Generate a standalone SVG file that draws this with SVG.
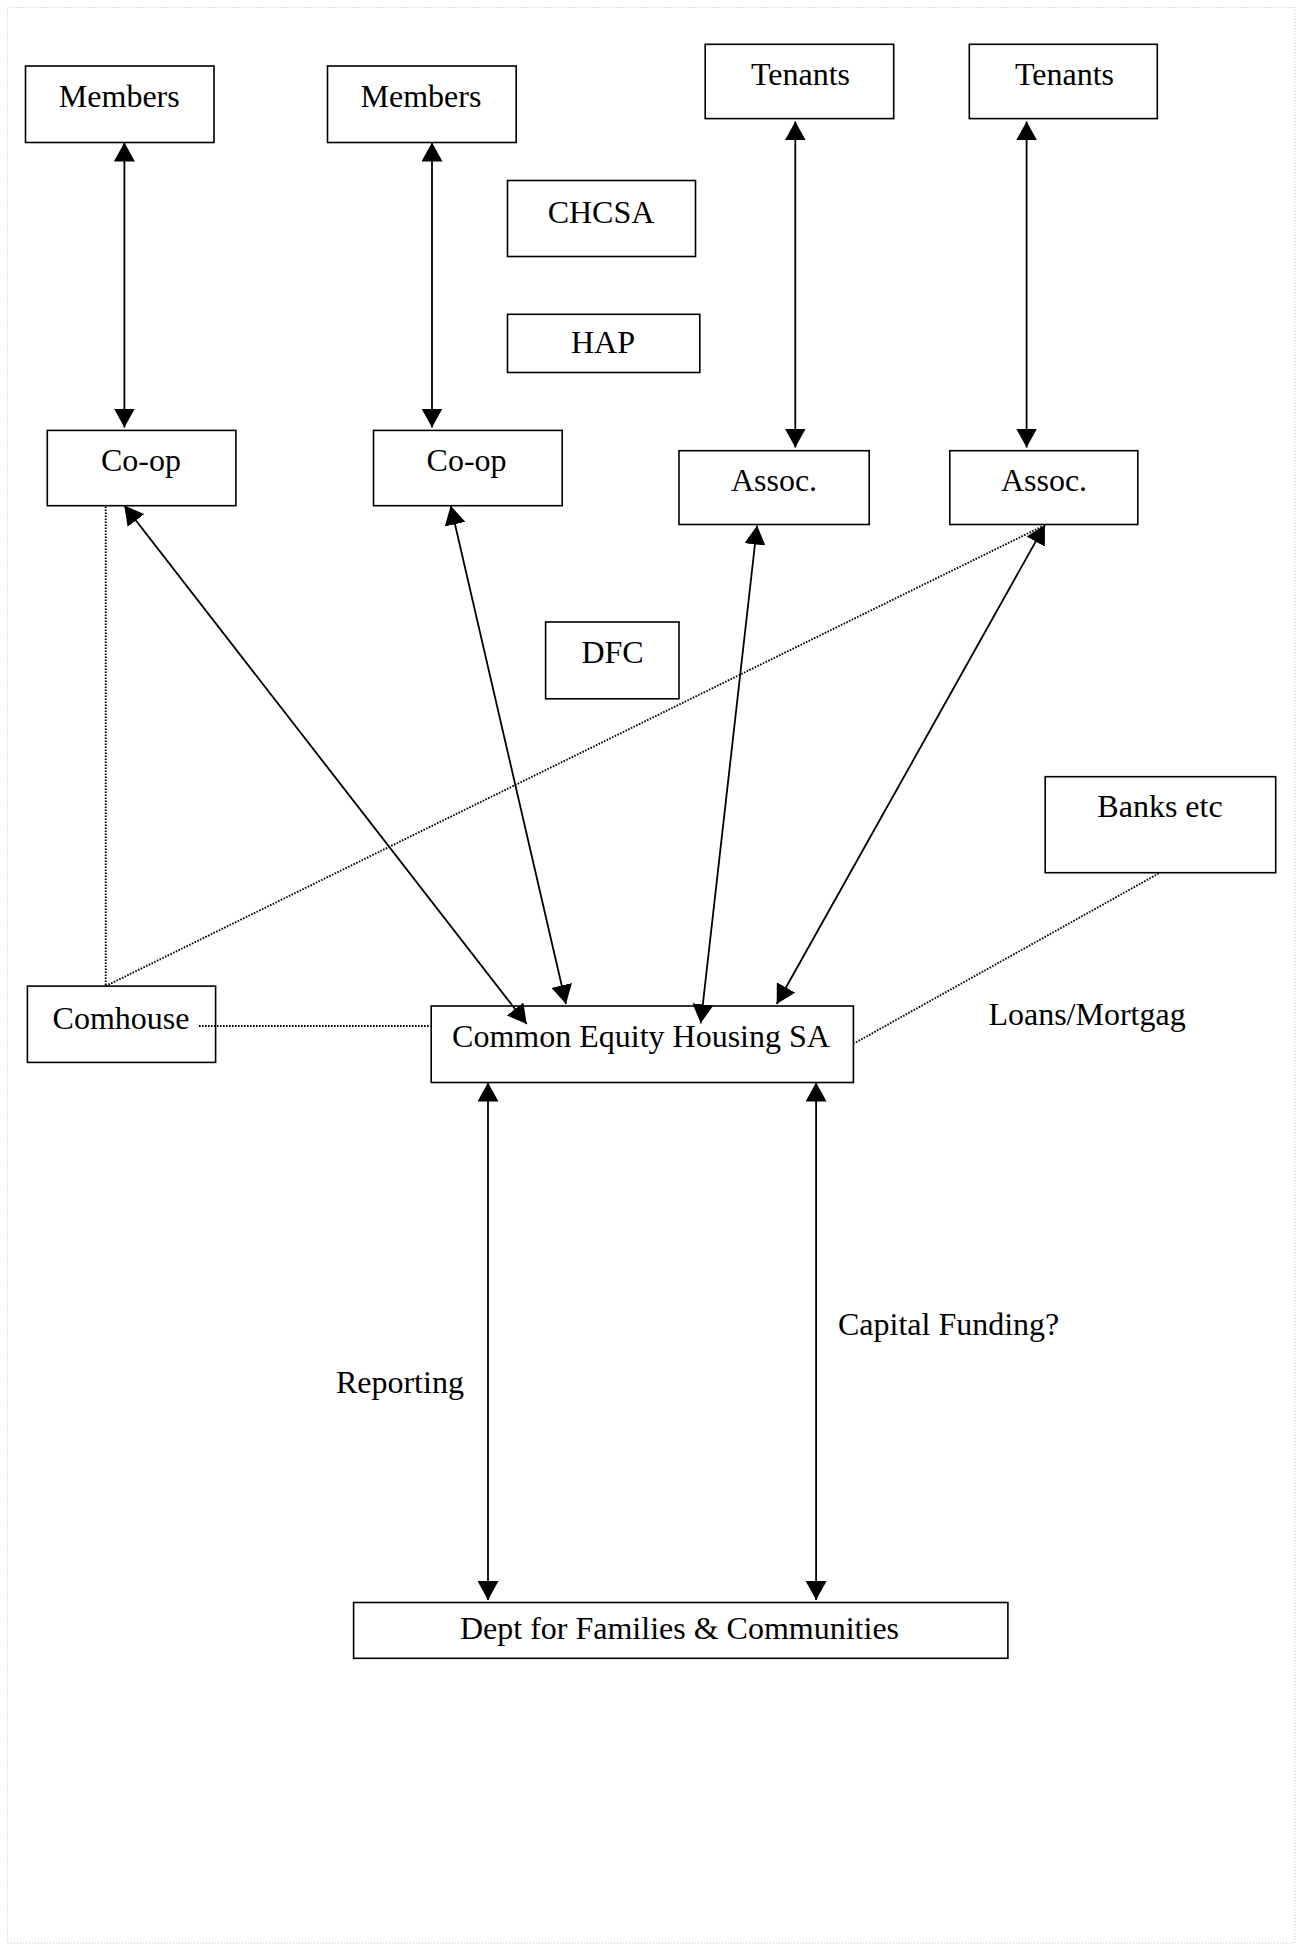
<svg xmlns="http://www.w3.org/2000/svg" width="1301" height="1947" viewBox="0 0 1301 1947">
  <style>
    .box { fill: #ffffff; stroke: #000000; stroke-width: 1.6; }
    .lbl { font-family: "Liberation Serif", "Times New Roman", serif; font-size: 32px; fill: #000000; text-anchor: middle; }
    .free { font-family: "Liberation Serif", "Times New Roman", serif; font-size: 32px; fill: #000000; }
    .arrow { stroke: #000000; stroke-width: 1.8; fill: none; marker-start: url(#ah); marker-end: url(#ah); }
    .dot { stroke: #000000; stroke-width: 1.9; fill: none; stroke-dasharray: 1.6 1.4; }
    .page { fill: none; stroke: #c4c4c4; stroke-width: 1; stroke-dasharray: 1 2; }
  </style>
  <defs>
    <marker id="ah" viewBox="0 0 19 21" refX="19" refY="10.5" markerWidth="19" markerHeight="21" markerUnits="userSpaceOnUse" orient="auto-start-reverse">
      <path d="M0,0 L19,10.5 L0,21 Z" fill="#000000"/>
    </marker>
  </defs>
  <rect x="0" y="0" width="1301" height="1947" fill="#ffffff"/>
  <rect class="page" x="7.5" y="7.5" width="1287.5" height="1935.5"/>

  <g id="members1"><rect class="box" x="25.5" y="66" width="188.5" height="76.5"/><text class="lbl" x="119.3" y="107">Members</text></g>
  <g id="members2"><rect class="box" x="327.5" y="66" width="188.7" height="76.5"/><text class="lbl" x="421" y="107">Members</text></g>
  <g id="chcsa"><rect class="box" x="507.5" y="180.5" width="188" height="76"/><text class="lbl" x="601" y="223">CHCSA</text></g>
  <g id="hap"><rect class="box" x="507.5" y="314.3" width="192.3" height="58.2"/><text class="lbl" x="603" y="352.9">HAP</text></g>
  <g id="tenants1"><rect class="box" x="705.2" y="44.3" width="188.5" height="74.3"/><text class="lbl" x="800.5" y="84.6">Tenants</text></g>
  <g id="tenants2"><rect class="box" x="969.3" y="44.3" width="188" height="74.3"/><text class="lbl" x="1064.5" y="84.6">Tenants</text></g>
  <g id="coop1"><rect class="box" x="47.3" y="430.4" width="188.6" height="75.3"/><text class="lbl" x="141" y="470.7">Co-op</text></g>
  <g id="coop2"><rect class="box" x="373.5" y="430.4" width="188.7" height="75.3"/><text class="lbl" x="466.6" y="470.7">Co-op</text></g>
  <g id="assoc1"><rect class="box" x="679" y="450.7" width="190.2" height="73.8"/><text class="lbl" x="774" y="491">Assoc.</text></g>
  <g id="assoc2"><rect class="box" x="949.8" y="450.7" width="188" height="73.8"/><text class="lbl" x="1044" y="491">Assoc.</text></g>
  <g id="dfc"><rect class="box" x="545.6" y="622" width="133.4" height="76.8"/><text class="lbl" x="612.5" y="662.9">DFC</text></g>
  <g id="banks"><rect class="box" x="1045.2" y="776.7" width="230.5" height="96"/><text class="lbl" x="1160" y="816.7">Banks etc</text></g>
  <g id="comhouse"><rect class="box" x="27.4" y="986.1" width="188.2" height="76.3"/><text class="lbl" x="121" y="1029">Comhouse</text></g>
  <g id="ceh"><rect class="box" x="431.2" y="1006" width="422.2" height="76.5"/><text class="lbl" x="641" y="1046.5">Common Equity Housing SA</text></g>
  <g id="dept"><rect class="box" x="353.6" y="1602.5" width="654.3" height="55.8"/><text class="lbl" x="679.5" y="1639.3">Dept for Families &amp; Communities</text></g>

  <g id="connectors">
    <line class="arrow" x1="124.4" y1="142.5" x2="124.4" y2="427.5"/>
    <line class="arrow" x1="432" y1="142.5" x2="432" y2="427.5"/>
    <line class="arrow" x1="795.3" y1="121.4" x2="795.3" y2="447.5"/>
    <line class="arrow" x1="1026.6" y1="121.4" x2="1026.6" y2="447.5"/>
    <line class="arrow" x1="124.3" y1="505.5" x2="526.7" y2="1024"/>
    <line class="arrow" x1="450.7" y1="505.7" x2="566" y2="1004"/>
    <line class="arrow" x1="757.1" y1="525.5" x2="700.7" y2="1023.3"/>
    <line class="arrow" x1="1045" y1="525" x2="776.7" y2="1004"/>
    <line class="arrow" x1="488" y1="1082.5" x2="488" y2="1600"/>
    <line class="arrow" x1="816.1" y1="1082.5" x2="816.1" y2="1600"/>
    <line class="dot" x1="105.7" y1="506.5" x2="105.7" y2="986"/>
    <line class="dot" x1="105.7" y1="986" x2="1043" y2="526"/>
    <line class="dot" x1="199" y1="1026" x2="430.5" y2="1026"/>
    <line class="dot" x1="1158.6" y1="873.5" x2="854.3" y2="1043.3"/>
  </g>

  <g id="labels">
    <text class="free" x="988.4" y="1024.9">Loans/Mortgag</text>
    <text class="free" x="335.9" y="1393">Reporting</text>
    <text class="free" x="838" y="1335">Capital Funding?</text>
  </g>
</svg>
